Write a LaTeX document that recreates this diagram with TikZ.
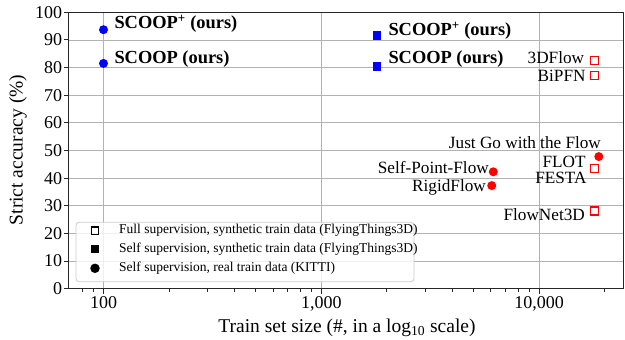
\documentclass[tikz,border=0pt]{standalone}
\usepackage{fontspec}
\setmainfont{Liberation Serif}
\begin{document}
\begin{tikzpicture}[x=1bp,y=1bp]

      % One style per kind of supervision, plus the text styles
      \tikzstyle{fullsyn}=[draw,rectangle,line width=1.1bp,minimum size=8bp,inner sep=0pt]
      \tikzstyle{selfsyn}=[fill,rectangle,minimum size=8.6bp,inner sep=0pt]
      \tikzstyle{selfreal}=[fill,circle,minimum size=9bp,inner sep=0pt]
      \tikzstyle{gridline}=[draw=black!30,line width=0.8bp]
      \tikzstyle{spine}=[draw=black!85,line width=1.1bp]
      \tikzstyle{ticklabel}=[inner sep=0pt,font=\fontsize{18bp}{20bp}\selectfont]
      \tikzstyle{axislabel}=[inner sep=0pt,font=\fontsize{19.5bp}{22bp}\selectfont]
      \tikzstyle{method}=[inner sep=0pt,font=\fontsize{17.2bp}{20bp}\selectfont]
      \tikzstyle{ours}=[inner sep=0pt,font=\fontsize{18.4bp}{20bp}\selectfont\bfseries]
      \tikzstyle{legendtext}=[inner sep=0pt,anchor=west,font=\fontsize{13.5bp}{15bp}\selectfont]

      % Define dimensions of the axes (in bp)
      \def\dec{217.8}   % length of one decade
      \def\pc{2.764}    % length of one percent
      \def\xo{103.5}    % position of 100 samples
      \def\yb{50.3}     % position of 0 %
      \def\xlo{1.8407}  % log10 at the left spine
      \def\xhi{4.3866}  % log10 at the right spine

      \useasboundingbox (0,0) rectangle (625,339);

      % Data scope: x is log10 of the train set size, y is the accuracy
      \begin{scope}[shift={(\xo-2*\dec,\yb)},x=\dec bp,y=\pc bp]

        % Grid
        \foreach \v in {0,10,...,100}
          \draw[gridline] (\xlo,\v) -- (\xhi,\v);
        \foreach \ex in {2,3,4}
          \draw[gridline] (\ex,0) -- (\ex,100);

        % Spines, ticks and tick labels
        \draw[spine] (\xlo,0) rectangle (\xhi,100);
        \foreach \v in {0,10,...,100} {
          \draw[spine] (\xlo,\v) -- ++(-5bp,0pt);
          \node[ticklabel,anchor=east] (ytick\v) at ([xshift=-6.5bp]\xlo,\v) {\v};
        }
        \foreach \ex/\lab in {2/100,3/{1,000},4/{10,000}} {
          \draw[spine] (\ex,0) -- ++(0pt,-5bp);
          \node[ticklabel,anchor=base] (xtick\ex) at ([yshift=-19.6bp]\ex,0) {\lab};
        }
        \foreach \ex/\m in {1/8,1/9,2/2,2/3,2/4,2/5,2/6,2/7,2/8,2/9,3/2,3/3,3/4,3/5,3/6,3/7,3/8,3/9,4/2}
          \draw[spine,line width=0.8bp] ({\ex+log10(\m)},0) -- ++(0pt,-3bp);

        % Methods
        \node[selfreal,blue] (scoopplusr) at (2,93.7) {};
        \node[selfreal,blue] (scoopr) at (2,81.5) {};
        \node[selfsyn,blue] (scoopplus) at ({3+log10(1.8)},91.5) {};
        \node[selfsyn,blue] (scoop) at ({3+log10(1.8)},80.3) {};
        \node[fullsyn,red] (flow3d) at ({4+log10(1.8)},82.5) {};
        \node[fullsyn,red] (bipfn) at ({4+log10(1.8)},77.1) {};
        \node[fullsyn,red] (flot) at ({4+log10(1.8)},43.6) {};
        \node[fullsyn,red] (flownet) at ({4+log10(1.8)},28.1) {};
        \node[selfreal,red] (justgo) at ({4+log10(1.88)},47.8) {};
        \node[selfreal,red] (selfpoint) at ({3+log10(6.16)},42.3) {};
        \node[selfreal,red] (rigid) at ({3+log10(6.06)},37.3) {};

        % Method names
        \node[ours,anchor=base west] (lscoopplusr) at ([xshift=10.8bp,yshift=1.4bp]scoopplusr.center) {SCOOP\textsuperscript{+} (ours)};
        \node[ours,anchor=base west] (lscoopr) at ([xshift=10.8bp]scoopr.center) {SCOOP (ours)};
        \node[ours,anchor=base west] (lscoopplus) at ([xshift=11.4bp]scoopplus.center) {SCOOP\textsuperscript{+} (ours)};
        \node[ours,anchor=base west] (lscoop) at ([xshift=11.4bp,yshift=2.8bp]scoop.center) {SCOOP (ours)};
        \node[method,anchor=base east] (lflow3d) at ([xshift=-10.4bp,yshift=-2.7bp]flow3d.center) {3DFlow};
        \node[method,anchor=base east] (lbipfn) at ([xshift=-9bp,yshift=-6.1bp]bipfn.center) {BiPFN};
        \node[method,anchor=base east] (ljustgo) at ([xshift=2.3bp,yshift=7.6bp]justgo.center) {Just Go with the Flow};
        \node[method,anchor=base east] (lflot) at ([xshift=-9bp,yshift=0.8bp]flot.center) {FLOT};
        \node[method,anchor=base east] (lfesta) at ([xshift=-8bp,yshift=-15.2bp]flot.center) {FESTA};
        \node[method,anchor=base east] (lflownet) at ([xshift=-9.7bp,yshift=-9bp]flownet.center) {FlowNet3D};
        \node[method,anchor=base east] (lselfpoint) at ([xshift=-4.3bp,yshift=-1.5bp]selfpoint.center) {Self-Point-Flow};
        \node[method,anchor=base east] (lrigid) at ([xshift=-5.7bp,yshift=-5.4bp]rigid.center) {RigidFlow};
      \end{scope}

      % Axis labels
      \node[axislabel,rotate=90] (ylabel) at (18,189) {Strict accuracy (\%)};
      \node[axislabel,anchor=base] (xlabel) at (347,7) {Train set size (\#, in a log\textsubscript{10} scale)};

      % Legend
      \draw[draw=black!20,fill=white,fill opacity=0.8,rounded corners=3bp,line width=0.8bp] (76,57.3) rectangle (414,116.7);
      \node[fullsyn,black,minimum size=7.5bp] (keyfull) at (95,108.3) {};
      \node[selfsyn,black,minimum size=8bp] (keysyn) at (95,89.7) {};
      \node[selfreal,black,minimum size=9.5bp] (keyreal) at (95,70.7) {};
      \node[legendtext] (txtfull) at (119,108.3) {Full supervision, synthetic train data (FlyingThings3D)};
      \node[legendtext] (txtsyn) at (119,89.7) {Self supervision, synthetic train data (FlyingThings3D)};
      \node[legendtext] (txtreal) at (119,70.7) {Self supervision, real train data (KITTI)};

\end{tikzpicture}
\end{document}
